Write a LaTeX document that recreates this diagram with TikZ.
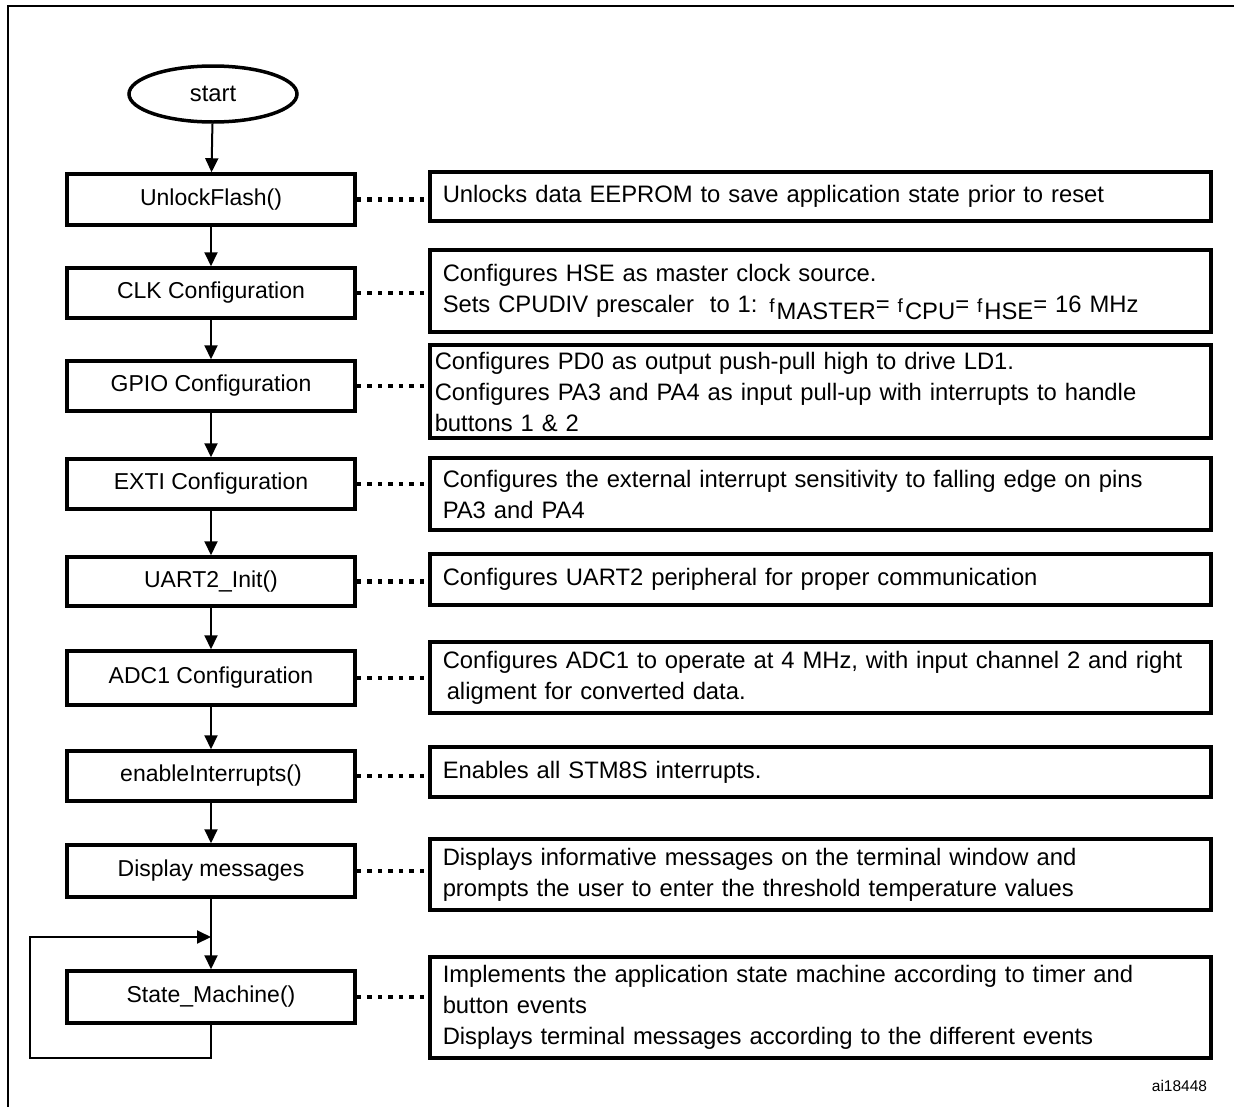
\documentclass[tikz,border=0pt]{standalone}
\usepackage{fontspec}
\setmainfont{Liberation Sans}
\usetikzlibrary{shapes.geometric,arrows.meta}
% small "f" of a frequency symbol and its lowered index
\newcommand\freqf{{\fontsize{19}{20}\selectfont f\kern2pt}}
\newcommand\lowidx[1]{\raisebox{-7pt}[0pt][0pt]{#1}}
\begin{document}
\begin{tikzpicture}[x=1pt,y=-1pt,
  every node/.style={font=\fontsize{23.8}{31}\selectfont},
  stepbox/.style={draw, line width=3.5pt, minimum width=288pt, inner sep=0pt,
    font=\fontsize{23}{27}\selectfont},
  notebox/.style={draw, line width=3.5pt, anchor=west, minimum width=781pt,
    text width=755pt, inner xsep=13pt, inner ysep=0pt, align=left},
  flow/.style={line width=2pt, -{Triangle[length=14pt,width=13pt]}},
  dotline/.style={line width=4.5pt, dash pattern=on 4.5pt off 6pt},
]
\useasboundingbox (0,0) rectangle (1234,1106);

% outer frame
\draw[line width=2.5pt] (8,1110) -- (8,6) -- (1240,6);

% program steps
\node[draw, ellipse, line width=3.5pt, minimum width=168pt, minimum height=56pt, inner sep=0pt] (start) at (213,94) {start};
\node[stepbox, minimum height=51pt] (unlock) at (211,199.5) {UnlockFlash()};
\node[stepbox, minimum height=50pt] (clk) at (211,293) {CLK Configuration};
\node[stepbox, minimum height=50pt] (gpio) at (211,386) {GPIO Configuration};
\node[stepbox, minimum height=50pt] (exti) at (211,484) {EXTI Configuration};
\node[stepbox, minimum height=49pt] (uart) at (211,581.5) {UART2\_Init()};
\node[stepbox, minimum height=54pt] (adc) at (211,678) {ADC1 Configuration};
\node[stepbox, minimum height=50pt] (irq) at (211,776) {enableInterrupts()};
\node[stepbox, minimum height=52pt] (disp) at (211,871) {Display messages};
\node[stepbox, minimum height=52pt] (sm) at (211,997) {State\_Machine()};

% descriptions
\node[notebox, minimum height=49pt] (dunlock) at (428,196.5) {Unlocks data EEPROM to save application state prior to reset};
\node[notebox, minimum height=82pt] (dclk) at (428,291) {Configures HSE as master clock source.\\
Sets CPUDIV prescaler\ \ to 1: \freqf\lowidx{MASTER}= \freqf\lowidx{CPU}= \freqf\lowidx{HSE}= 16 MHz};
\node[notebox, minimum height=93pt, inner xsep=5pt, text width=771pt] (dgpio) at (428,391.5) {Configures PD0 as output push-pull high to drive LD1.\\
Configures PA3 and PA4 as input pull-up with interrupts to handle\\
buttons 1 \& 2};
\node[notebox, minimum height=72pt] (dexti) at (428,494) {Configures the external interrupt sensitivity to falling edge on pins\\
PA3 and PA4};
\node[notebox, minimum height=51pt] (duart) at (428,579.5) {Configures UART2 peripheral for proper communication};
\node[notebox, minimum height=71pt] (dadc) at (428,677.5) {Configures ADC1 to operate at 4 MHz, with input channel 2 and right\\
\hspace*{4pt}aligment for converted data.};
\node[notebox, minimum height=50pt] (dirq) at (428,772) {Enables all STM8S interrupts.};
\node[notebox, minimum height=71pt] (ddisp) at (428,874.5) {Displays informative messages on the terminal window and\\
prompts the user to enter the threshold temperature values};
\node[notebox, minimum height=101pt] (dsm) at (428,1007.5) {Implements the application state machine according to timer and\\
button events\\
Displays terminal messages according to the different events};

\node[font=\fontsize{15.5}{18}\selectfont] (ref) at (1179.5,1086) {ai18448};

% flow arrows
\draw[flow] (start) -- (unlock);
\draw[flow] (unlock) -- (clk);
\draw[flow] (clk) -- (gpio);
\draw[flow] (gpio) -- (exti);
\draw[flow] (exti) -- (uart);
\draw[flow] (uart) -- (adc);
\draw[flow] (adc) -- (irq);
\draw[flow] (irq) -- (disp);
\draw[flow] (disp) -- (sm);

% loop back into the state machine
\coordinate (loopdown) at (211,1058);
\coordinate (loopleft) at (30,1058);
\coordinate (loopup) at (30,937);
\coordinate (loopin) at (211,937);
\draw[flow] (sm.south) -- (loopdown) -- (loopleft) -- (loopup) -- (loopin);

% links from steps to descriptions
\foreach \s/\d in {unlock/dunlock, clk/dclk, gpio/dgpio, exti/dexti, uart/duart, adc/dadc, irq/dirq, disp/ddisp, sm/dsm}
  \draw[dotline] (\s.east) -- (\s.east -| \d.west);
\end{tikzpicture}
\end{document}
